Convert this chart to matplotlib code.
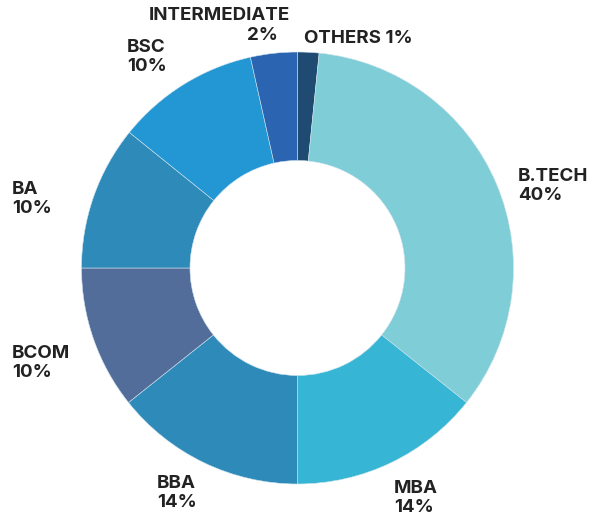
import matplotlib
matplotlib.use("Agg")
import matplotlib.pyplot as plt

# Slice data (clockwise from the top), shares
categories = ["OTHERS", "B.TECH", "MBA", "BBA", "BCOM", "BA", "BSC", "INTERMEDIATE"]
shares = [1.6, 34.1, 14.3, 14.3, 10.7, 10.8, 10.7, 3.5]
pct_labels = ["1%", "40%", "14%", "14%", "10%", "10%", "10%", "2%"]
colors = ["#1f4a72", "#7fcdd6", "#36b6d4", "#2e8ab9", "#526d99", "#2e8ab9", "#2297d3", "#2b64b0"]

W, H = 605, 519
fig = plt.figure(figsize=(W / 100, H / 100), dpi=100)
ax = fig.add_axes([0, 0, 1, 1])

# ring centre / radius in pixel units
cx, cy, r = 297.5, H - 268, 216
ax.pie(shares, colors=colors, startangle=90, counterclock=False,
       center=(cx, cy), radius=r, frame=True,
       wedgeprops=dict(width=r - 107.5, edgecolor="#cfe3ee", linewidth=0.4))

ax.set_xlim(0, W)
ax.set_ylim(0, H)
ax.set_aspect("equal")
ax.axis("off")

font = dict(family=["Inter", "DejaVu Sans"], fontweight="bold", fontsize=13.5, color="#222222")

# label anchors (x left, y centre of block, image pixels)
spots = {
    "B.TECH": (518, 186),
    "MBA": (394, 498),
    "BBA": (157, 493),
    "BCOM": (12, 363),
    "BA": (12, 199),
    "BSC": (127, 57),
}
for name, pct in zip(categories, pct_labels):
    if name in spots:
        x, y = spots[name]
        ax.text(x, H - y, name + "\n" + pct, ha="left", va="center", linespacing=1.12, **font)

i = categories.index("INTERMEDIATE")
ax.text(219, H - 15, categories[i], ha="center", va="center", **font)
ax.text(262, H - 36, pct_labels[i], ha="center", va="center", **font)
i = categories.index("OTHERS")
ax.text(304, H - 38.5, categories[i] + " " + pct_labels[i], ha="left", va="center", **font)

fig.savefig("out.png", dpi=100)
